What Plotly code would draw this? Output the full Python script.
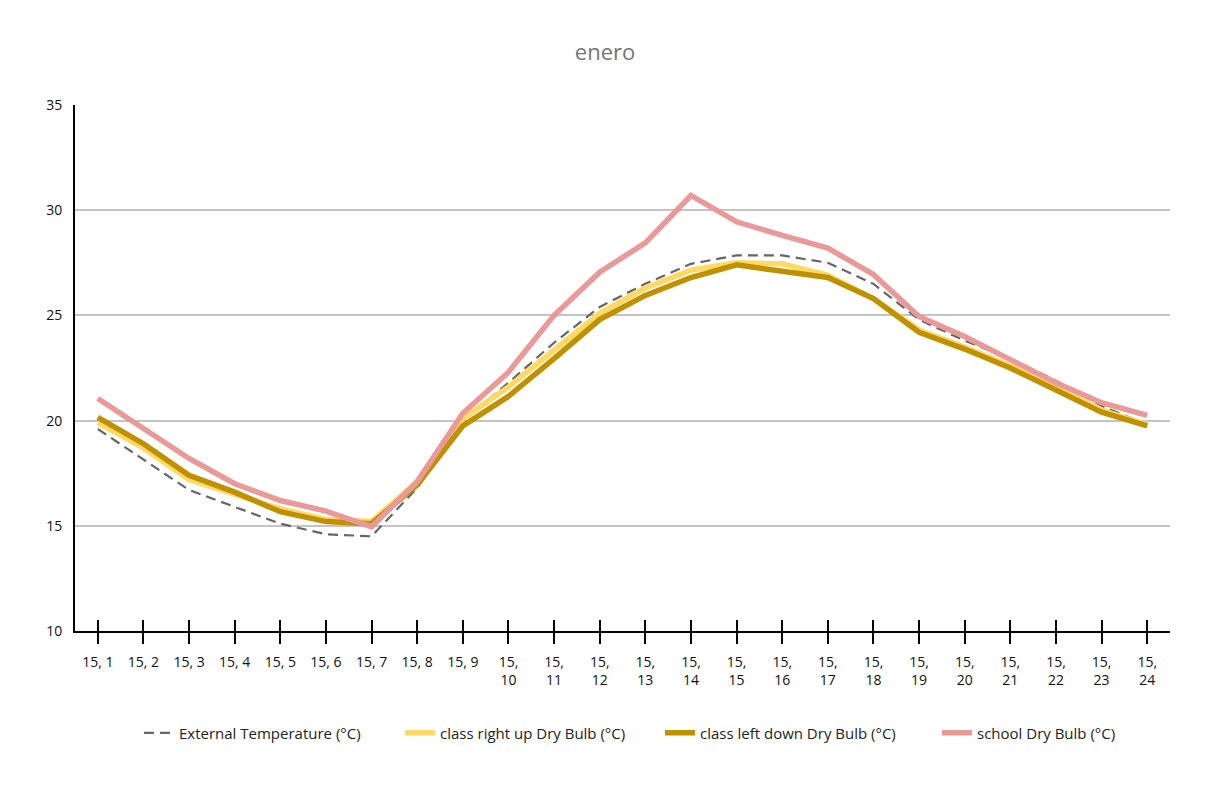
import plotly.graph_objects as go

categories = [f"15, {h}" for h in range(1, 25)]
tick_text = [c if i < 9 else c.replace(" ", "<br>") for i, c in enumerate(categories)]

external = [19.6, 18.15, 16.7, 15.9, 15.1, 14.6, 14.5, 16.8, 20.0, 21.8, 23.7, 25.4,
            26.5, 27.45, 27.85, 27.85, 27.5, 26.5, 24.8, 23.8, 22.95, 21.9, 20.7, 19.8]
right_up = [19.9, 18.7, 17.2, 16.5, 15.8, 15.3, 15.2, 17.1, 20.1, 21.6, 23.35, 25.1,
            26.3, 27.15, 27.5, 27.45, 26.9, 25.8, 24.3, 23.5, 22.6, 21.55, 20.5, 19.8]
left_down = [20.15, 18.9, 17.4, 16.6, 15.67, 15.2, 15.1, 16.95, 19.75, 21.15, 22.95, 24.8,
             25.95, 26.8, 27.4, 27.1, 26.8, 25.8, 24.2, 23.4, 22.5, 21.45, 20.4, 19.75]
school = [21.05, 19.6, 18.2, 17.0, 16.2, 15.7, 14.95, 17.1, 20.35, 22.3, 25.0, 27.05,
          28.45, 30.7, 29.45, 28.8, 28.2, 26.95, 24.95, 24.0, 22.9, 21.8, 20.85, 20.25]

y_ticks = [10, 15, 20, 25, 30, 35]

legend_font = dict(family="Open Sans, sans-serif", size=15, color="#222222")

fig = go.Figure()
fig.add_trace(go.Scatter(x=categories, y=external, mode="lines", name="External Temperature (°C)",
                         legend="legend",
                         line=dict(color="#666666", width=2.2, dash="10px,6px")))
fig.add_trace(go.Scatter(x=categories, y=right_up, mode="lines", name="class right up Dry Bulb (°C)",
                         legend="legend2",
                         line=dict(color="#FFD966", width=5.5)))
fig.add_trace(go.Scatter(x=categories, y=left_down, mode="lines", name="class left down Dry Bulb (°C)",
                         legend="legend3",
                         line=dict(color="#BF9000", width=5.5)))
fig.add_trace(go.Scatter(x=categories, y=school, mode="lines", name="school Dry Bulb (°C)",
                         legend="legend4",
                         line=dict(color="#EA9999", width=5.5)))
# invisible trace for crossing tick marks
fig.add_trace(go.Scatter(x=categories, y=external, mode="lines", xaxis="x2", showlegend=False,
                         line=dict(width=0), hoverinfo="skip", opacity=0))

def leg(xpos):
    return dict(orientation="h", x=xpos, xanchor="left", y=-0.194, yanchor="middle",
                font=legend_font, bgcolor="rgba(0,0,0,0)")

fig.update_layout(
    width=1194, height=770,
    margin=dict(l=67, r=32, t=97, b=147, autoexpand=False),
    paper_bgcolor="white", plot_bgcolor="white",
    title=dict(text="enero", x=0.5, xanchor="center", y=0.943, yanchor="middle",
               font=dict(family="Open Sans, sans-serif", size=22, color="#757575")),
    xaxis=dict(type="category", categoryorder="array", categoryarray=categories,
               range=[-0.5, 23.5], tickmode="array", tickvals=categories, ticktext=tick_text,
               ticks="outside", ticklen=11, tickwidth=2, tickcolor="black", tickangle=0,
               showline=True, linecolor="black", linewidth=2, showgrid=False,
               ticklabelstandoff=6,
               tickfont=dict(family="Open Sans, sans-serif", size=14, color="#111111"),
               zeroline=False, automargin=False),
    xaxis2=dict(type="category", categoryorder="array", categoryarray=categories,
                range=[-0.5, 23.5], overlaying="x", anchor="y", side="bottom",
                tickmode="array", tickvals=categories, ticks="inside", ticklen=11,
                tickwidth=2, tickcolor="black", showticklabels=False, showgrid=False,
                showline=False, zeroline=False, automargin=False),
    yaxis=dict(range=[10, 35], tickmode="array", tickvals=y_ticks, showgrid=True,
               gridcolor="#C4C4C4", gridwidth=1.5, showline=True, linecolor="black", linewidth=2,
               ticks="", ticklabelstandoff=8, automargin=False,
               tickfont=dict(family="Open Sans, sans-serif", size=14, color="#111111"),
               zeroline=False),
    legend=leg(0.0584),
    legend2=leg(0.2968),
    legend3=leg(0.5342),
    legend4=leg(0.7872),
    showlegend=True,
)

fig.write_html("out.html")
